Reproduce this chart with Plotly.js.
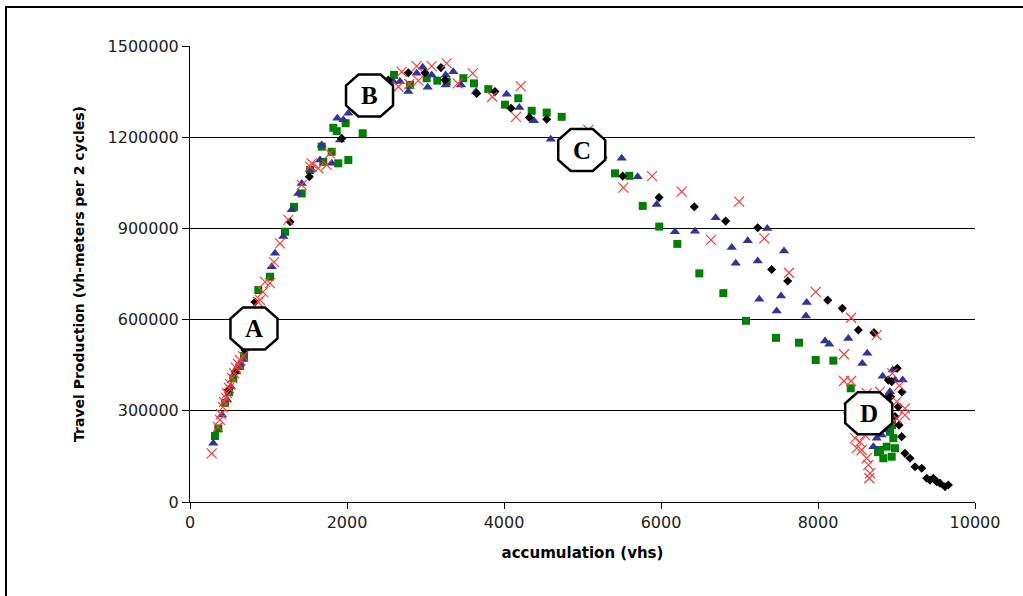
<!DOCTYPE html>
<html>
<head>
<meta charset="utf-8">
<script src="https://cdn.plot.ly/plotly-3.0.1.min.js"></script>
<style>html,body{margin:0;padding:0;background:#fff;}#chart{width:1023px;height:596px;}</style>
</head>
<body>
<div id="chart"></div>
<script>
// ---- Data ----
var blackX = [484, 573, 700, 828, 1274, 1520, 1933,
  2526, 2781, 2994, 3197, 3248, 3652, 3885, 4089, 4322, 4544,
  5512, 5975, 6424, 6824, 7232, 7410, 7614, 8124, 8310, 8514, 8713, 9010, 8896, 8926,
  8939, 9023, 8981, 9032, 9070, 9066, 9108, 9172, 9236, 9321, 9385, 9427, 9469, 9512, 9554, 9618, 9660];
var blackY = [368000, 428000, 500000, 658000, 922000, 1070000, 1196000,
  1388000, 1412000, 1412000, 1429000, 1388000, 1344000, 1350000, 1295000, 1265000, 1259000,
  1072000, 1002000, 971000, 924000, 902000, 765000, 727000, 664000, 637000, 566000, 557000, 440000, 401000, 346000,
  396000, 313000, 281000, 253000, 362000, 215000, 160000, 144000, 116000, 111000, 78000, 72000, 78000, 67000, 62000, 50000, 56000];

var blueX = [297, 408, 471, 522, 586, 637, 679, 1041, 1083, 1189, 1296, 1380, 1423, 1550, 1656, 1678, 1805, 1911, 1876, 1953, 2017,
  2590, 2675, 2781, 2888, 2964, 3028, 3079, 3257, 3257, 3354, 3452, 3643, 4034, 4195, 4382, 4595,
  5257, 5499, 5703, 5945, 6178, 6433, 6697, 6901, 6952, 7105, 7232, 7354, 7567, 7529, 7252, 7474, 7856, 7847,
  8089, 8144, 8386, 8628, 8565, 8824, 8952, 9079, 8917, 8981, 8896, 8748, 8705, 8812, 8854];
var blueY = [193000, 286000, 336000, 378000, 428000, 454000, 469000, 774000, 818000, 873000, 961000, 1015000, 1048000, 1092000, 1125000, 1174000, 1114000, 1191000, 1262000, 1257000, 1279000,
  1383000, 1383000, 1350000, 1410000, 1430000, 1364000, 1405000, 1405000, 1372000, 1415000, 1372000, 1350000, 1341000, 1298000, 1254000, 1193000,
  1138000, 1131000, 1070000, 979000, 889000, 891000, 935000, 837000, 785000, 859000, 793000, 900000, 826000, 678000, 667000, 628000, 656000, 612000,
  530000, 519000, 538000, 489000, 456000, 414000, 434000, 401000, 363000, 401000, 352000, 210000, 182000, 220000, 237000];

var greenX = [318, 361, 446, 497, 552, 637, 688, 870, 1019, 1210, 1325, 1423, 1529, 1678, 1805, 1698, 1889, 2017, 1826, 1869, 1983, 2200,
  2599, 2803, 3015, 3150, 3270, 3482, 3618, 3800, 4013, 4182, 4353, 4544, 4735,
  5414, 5596, 5767, 5978, 6208, 6488, 6794, 7083, 7465, 7758, 7971, 8195, 8417,
  8917, 8960, 8875, 8832, 8939, 8981, 8790, 8943, 8764];
var greenY = [217000, 242000, 326000, 362000, 407000, 447000, 480000, 697000, 741000, 889000, 971000, 1015000, 1092000, 1169000, 1152000, 1119000, 1114000, 1125000, 1231000, 1220000, 1246000, 1213000,
  1405000, 1372000, 1394000, 1386000, 1383000, 1394000, 1377000, 1358000, 1307000, 1328000, 1287000, 1281000, 1267000,
  1081000, 1073000, 974000, 906000, 849000, 752000, 687000, 596000, 540000, 524000, 467000, 465000, 374000,
  231000, 210000, 182000, 144000, 149000, 177000, 171000, 253000, 164000];

var redX = [276, 357, 382, 395, 420, 433, 459, 471, 497, 510, 535, 561, 586, 612, 637, 675, 866, 892, 930, 955, 1019, 1070,
  1147, 1252, 1423, 1529, 1550, 1634, 1741, 1783,
  2654, 2697, 2794, 2888, 2908, 3079, 3270, 3410, 3601, 3851, 4213, 4153, 5074,
  5520, 5886, 6264, 6637, 6994, 7316, 7631, 7971, 8421, 8748, 8331, 8331, 8421, 8621, 8790, 8947, 9036,
  9108, 9108, 9003, 9003, 8599, 8472, 8535, 8493, 8557, 8621, 8641, 8663, 8654, 8386, 8917];
var redY = [160000, 247000, 270000, 289000, 312000, 329000, 342000, 358000, 375000, 388000, 408000, 424000, 441000, 454000, 467000, 480000, 658000, 664000, 691000, 724000, 720000, 789000,
  851000, 928000, 1043000, 1103000, 1114000, 1098000, 1109000, 1147000,
  1366000, 1415000, 1375000, 1434000, 1386000, 1434000, 1443000, 1377000, 1410000, 1333000, 1368000, 1267000, 1224000,
  1034000, 1072000, 1021000, 862000, 988000, 867000, 754000, 691000, 606000, 549000, 486000, 398000, 398000, 358000, 363000, 423000, 383000,
  308000, 286000, 275000, 330000, 220000, 210000, 198000, 177000, 171000, 144000, 122000, 94000, 78000, 308000, 270000];

var labelText = ['A', 'B', 'C', 'D'];
var labelX = [815, 2287, 4990, 8646];
var labelY = [570700, 1337200, 1157900, 291800];

var xTickVals = [0, 2000, 4000, 6000, 8000, 10000];
var yTickVals = [0, 300000, 600000, 900000, 1200000, 1500000];

// ---- Traces ----
var traces = [
  {x: greenX, y: greenY, type: 'scatter', mode: 'markers', name: 'green',
   marker: {symbol: 'square', size: 8, color: '#008000'}},
  {x: blueX, y: blueY, type: 'scatter', mode: 'markers', name: 'blue',
   marker: {symbol: 'triangle-up', size: 9, color: '#33339a'}},
  {x: blackX, y: blackY, type: 'scatter', mode: 'markers', name: 'black',
   marker: {symbol: 'diamond', size: 7, color: '#000000'}},
  {x: redX, y: redY, type: 'scatter', mode: 'markers', name: 'red',
   marker: {symbol: 'x-thin-open', size: 10, color: '#ff3b3b', line: {color: '#ff3b3b', width: 1.2}}}
];

// octagon label boxes
var oct = 'M -11,21 L 11,21 L 23.5,10 L 23.5,-10 L 11,-21 L -11,-21 L -23.5,-10 L -23.5,10 Z';
var shapes = [
  {type: 'rect', xref: 'paper', yref: 'paper', x0: -0.2344, x1: 1.08, y0: -0.23, y1: 1.0855,
   line: {color: '#000', width: 2}, fillcolor: 'rgba(0,0,0,0)', layer: 'below'}
];
var annotations = [];
for (var i = 0; i < labelText.length; i++) {
  shapes.push({type: 'path', xref: 'x', yref: 'y', xsizemode: 'pixel', ysizemode: 'pixel',
    xanchor: labelX[i], yanchor: labelY[i], path: oct,
    line: {color: '#000', width: 2.5}, fillcolor: '#fff', layer: 'above'});
  annotations.push({x: labelX[i], y: labelY[i], xref: 'x', yref: 'y', text: '<b>' + labelText[i] + '</b>',
    showarrow: false, font: {family: 'Liberation Serif, Times New Roman, serif', size: 25, color: '#000'}});
}

var layout = {
  width: 1023, height: 596,
  margin: {l: 190, r: 48, t: 46, b: 94},
  paper_bgcolor: '#fff', plot_bgcolor: '#fff',
  showlegend: false,
  font: {family: 'DejaVu Sans, sans-serif', color: '#000'},
  xaxis: {
    range: [0, 10000], tickvals: xTickVals, tickformat: 'd',
    showgrid: false, zeroline: false, showline: true, linecolor: '#000', linewidth: 1,
    ticks: 'outside', ticklen: 6, tickcolor: '#000',
    tickfont: {family: 'DejaVu Sans, sans-serif', size: 16, color: '#222'},
    title: {text: '<b>accumulation (vhs)</b>', font: {family: 'DejaVu Sans, sans-serif', size: 15, color: '#000'}, standoff: 16}
  },
  yaxis: {
    range: [0, 1500000], tickvals: yTickVals, tickformat: 'd',
    showgrid: true, gridcolor: '#000', gridwidth: 1, zeroline: false,
    showline: true, linecolor: '#000', linewidth: 1,
    ticks: 'outside', ticklen: 7, tickcolor: '#000',
    tickfont: {family: 'DejaVu Sans, sans-serif', size: 16, color: '#222'},
    title: {text: '<b>Travel Production (vh-meters per 2 cycles)</b>', font: {family: 'DejaVu Sans, sans-serif', size: 14, color: '#000'}, standoff: 19}
  },
  shapes: shapes,
  annotations: annotations
};

Plotly.newPlot('chart', traces, layout, {displayModeBar: false, staticPlot: true});
</script>
</body>
</html>
